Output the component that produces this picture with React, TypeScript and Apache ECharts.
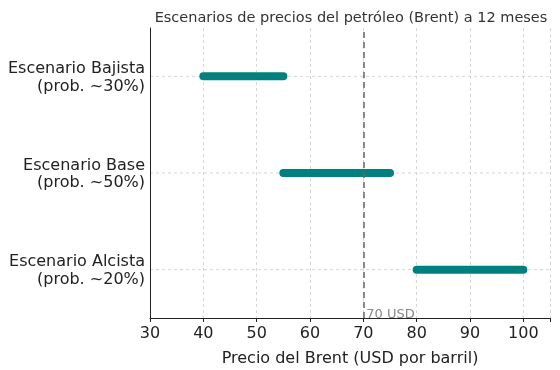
import React, { useEffect, useRef } from "react";
import * as echarts from "echarts";

const categories = [
  "Escenario Alcista\n(prob. ~20%)",
  "Escenario Base\n(prob. ~50%)",
  "Escenario Bajista\n(prob. ~30%)",
];
const lows = [80, 55, 40];
const highs = [100, 75, 55];
const refPrice = 70;
const refLabel = "70 USD";
const xTicks = { min: 30, max: 105, interval: 10 };

export default function App() {
  const ref = useRef<HTMLDivElement>(null);
  useEffect(() => {
    if (!ref.current) return;
    const chart = echarts.init(ref.current, null, { renderer: "svg" });
    const font = "DejaVu Sans";
    const series: any[] = categories.map((c, i) => ({
      type: "line",
      data: [
        [lows[i], c],
        [highs[i], c],
      ],
      symbol: "none",
      lineStyle: { width: 8, color: "#00807f", cap: "round" },
      z: 3,
    }));
    series.push({
      type: "line",
      data: [],
      markLine: {
        silent: true,
        symbol: "none",
        label: { show: false },
        lineStyle: { type: [6, 4], color: "#666", width: 1.5 },
        data: [{ xAxis: refPrice }],
      },
      z: 4,
    });
    chart.setOption({
      animation: false,
      textStyle: { fontFamily: font },
      title: {
        text: "Escenarios de precios del petróleo (Brent) a 12 meses",
        left: 346,
        top: 4,
        textAlign: "center",
        textStyle: { fontFamily: font, fontSize: 14.5, fontWeight: "normal", color: "#333" },
      },
      grid: { left: 150, right: 10, top: 28, bottom: 51, containLabel: false },
      xAxis: {
        type: "value",
        min: xTicks.min,
        max: xTicks.max,
        interval: xTicks.interval,
        name: "Precio del Brent (USD por barril)",
        nameLocation: "middle",
        nameGap: 31,
        nameTextStyle: { fontFamily: font, fontSize: 16, color: "#222" },
        axisLine: { show: true, lineStyle: { color: "#222", width: 1 } },
        axisTick: { show: true, length: 4, lineStyle: { color: "#222" } },
        axisLabel: {
          fontFamily: font,
          fontSize: 16,
          color: "#222",
          margin: 6,
          formatter: (v: number) => (v > 100 ? "" : String(v)),
        },
        splitLine: { show: true, lineStyle: { type: [3, 3], color: "#ccc", width: 0.8 } },
      },
      yAxis: {
        type: "category",
        data: categories,
        axisLine: { show: true, lineStyle: { color: "#222", width: 1 } },
        axisTick: { show: false },
        axisLabel: {
          fontFamily: font,
          fontSize: 16,
          color: "#222",
          lineHeight: 17.5,
          margin: 5,
          align: "right",
          padding: [6, 0, 0, 0],
        },
        splitLine: { show: false },
      },
      series,
    });
    const p = chart.convertToPixel({ xAxisIndex: 0, yAxisIndex: 0 }, [refPrice, categories[0]]) as number[];
    const gridBottom = 370 - 51;
    const hLines = categories.map((c) => {
      const q = chart.convertToPixel({ xAxisIndex: 0, yAxisIndex: 0 }, [xTicks.min, c]) as number[];
      return {
        type: "line",
        silent: true,
        z: 0,
        shape: { x1: 150, y1: q[1], x2: 550, y2: q[1] },
        style: { stroke: "#ccc", lineWidth: 0.8, lineDash: [3, 3] },
      };
    });
    chart.setOption({
      graphic: [
        ...hLines,
        {
          type: "text",
          x: p[0] + 3,
          y: gridBottom - 6,
          style: {
            text: refLabel,
            fontFamily: font,
            fontSize: 13,
            fill: "#888",
            textVerticalAlign: "middle",
          },
          z: 10,
        },
      ],
    });
    return () => chart.dispose();
  }, []);
  return (
    <div
      ref={ref}
      style={{ width: 560, height: 370, position: "fixed", left: 0, top: 0 }}
    />
  );
}
